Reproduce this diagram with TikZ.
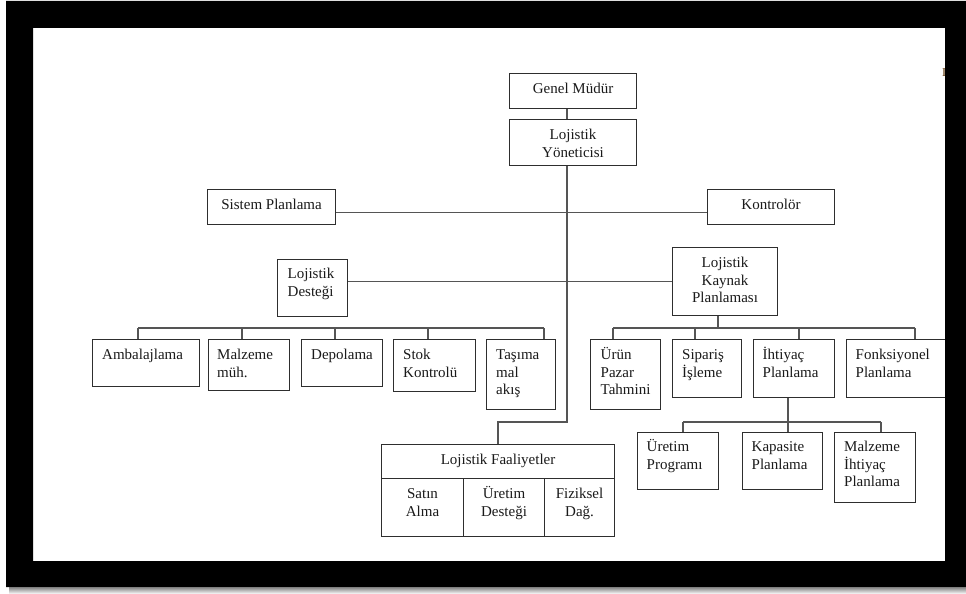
\documentclass[tikz,border=0pt]{standalone}
\usepackage{fontspec}
\setmainfont{Liberation Serif}
\definecolor{boxc}{HTML}{2E2E2E}
\definecolor{linec}{HTML}{555555}
\definecolor{txt}{HTML}{1A1A1A}
\definecolor{fragc}{HTML}{5A3000}
\newcommand\fs{\fontsize{15pt}{17.8pt}\selectfont}
\newcommand\tstrut{\rule{0pt}{13pt}}
\tikzset{
  bx/.style={draw=boxc, line width=1.1pt, inner sep=0pt, anchor=north west, fill=white},
  tl/.style={anchor=north west, inner sep=0pt, align=left, font=\fs, text=txt},
  tc/.style={anchor=north, inner sep=0pt, align=center, font=\fs, text=txt},
  conn/.style={draw=linec, line width=1.2pt},
}
\begin{document}
\begin{tikzpicture}[x=1pt, y=-1pt]
\useasboundingbox (0,0) rectangle (966,594);
\fill[white] (0,0) rectangle (966,594);

% --- top of the hierarchy ---
\node[bx, minimum width=127pt, minimum height=35pt] (gm) at (509,73) {};
\node[tc] (gmT) at ([yshift=-7pt]gm.north) {\tstrut Genel Müdür};
\node[bx, minimum width=127pt, minimum height=46pt] (ly) at (509,119) {};
\node[tc] (lyT) at ([yshift=-7pt]ly.north) {\tstrut Lojistik\\Yöneticisi};

% --- staff units ---
\node[bx, minimum width=128pt, minimum height=35pt] (sp) at (207,189) {};
\node[tc] (spT) at ([yshift=-7pt]sp.north) {\tstrut Sistem Planlama};
\node[bx, minimum width=127pt, minimum height=35pt] (kon) at (707,189) {};
\node[tc] (konT) at ([yshift=-7pt]kon.north) {\tstrut Kontrolör};

% --- second level ---
\node[bx, minimum width=70pt, minimum height=57pt] (ld) at (277,259) {};
\node[tl] (ldT) at ([shift={(10.5pt,-6pt)}]ld.north west) {\tstrut Lojistik\\Desteği};
\node[bx, minimum width=105pt, minimum height=68pt] (lkp) at (672,247) {};
\node[tc] (lkpT) at ([yshift=-7pt]lkp.north) {\tstrut Lojistik\\Kaynak\\Planlaması};

% --- units under Lojistik Desteği ---
\node[bx, minimum width=107pt, minimum height=47pt] (amb) at (92,339) {};
\node[tl] (ambT) at ([shift={(10pt,-7pt)}]amb.north west) {\tstrut Ambalajlama};
\node[bx, minimum width=81pt, minimum height=51pt] (mal) at (208,339) {};
\node[tl] (malT) at ([shift={(9pt,-7pt)}]mal.north west) {\tstrut Malzeme\\müh.};
\node[bx, minimum width=81pt, minimum height=47pt] (dep) at (301,339) {};
\node[tl] (depT) at ([shift={(10pt,-7pt)}]dep.north west) {\tstrut Depolama};
\node[bx, minimum width=82pt, minimum height=52pt] (stok) at (393,339) {};
\node[tl] (stokT) at ([shift={(10pt,-7pt)}]stok.north west) {\tstrut Stok\\Kontrolü};
\node[bx, minimum width=69pt, minimum height=70pt] (tas) at (486,339) {};
\node[tl] (tasT) at ([shift={(10pt,-7pt)}]tas.north west) {\tstrut Taşıma\\mal\\akış};

% --- units under Lojistik Kaynak Planlaması ---
\node[bx, minimum width=70pt, minimum height=70pt] (urun) at (590,339) {};
\node[tl] (urunT) at ([shift={(10.5pt,-7pt)}]urun.north west) {\tstrut Ürün\\Pazar\\Tahmini};
\node[bx, minimum width=69pt, minimum height=58pt] (sip) at (672,339) {};
\node[tl] (sipT) at ([shift={(10pt,-7pt)}]sip.north west) {\tstrut Sipariş\\İşleme};
\node[bx, minimum width=81pt, minimum height=58pt] (iht) at (753,339) {};
\node[tl] (ihtT) at ([shift={(9.5pt,-7pt)}]iht.north west) {\tstrut İhtiyaç\\Planlama};
\node[bx, minimum width=110pt, minimum height=58pt] (fon) at (846,339) {};
\node[tl] (fonT) at ([shift={(9.5pt,-7pt)}]fon.north west) {\tstrut Fonksiyonel\\Planlama};

% --- units under İhtiyaç Planlama ---
\node[bx, minimum width=81pt, minimum height=57pt] (uret) at (637,432) {};
\node[tl] (uretT) at ([shift={(9.5pt,-6pt)}]uret.north west) {\tstrut Üretim\\Programı};
\node[bx, minimum width=80pt, minimum height=57pt] (kap) at (742,432) {};
\node[tl] (kapT) at ([shift={(9.5pt,-6pt)}]kap.north west) {\tstrut Kapasite\\Planlama};
\node[bx, minimum width=81pt, minimum height=70pt] (mip) at (834,432) {};
\node[tl] (mipT) at ([shift={(10pt,-6pt)}]mip.north west) {\tstrut Malzeme\\İhtiyaç\\Planlama};

% --- Lojistik Faaliyetler table ---
\node[bx, minimum width=233pt, minimum height=34pt] (lfh) at (381,444) {};
\node[tc] (lfhT) at ([yshift=-7pt]lfh.north) {\tstrut Lojistik Faaliyetler};
\node[bx, minimum width=82pt, minimum height=58pt] (lfa) at (381,478) {};
\node[tc] (lfaT) at ([yshift=-7pt]lfa.north) {\tstrut Satın\\Alma};
\node[bx, minimum width=81pt, minimum height=58pt] (lfb) at (463,478) {};
\node[tc] (lfbT) at ([yshift=-7pt]lfb.north) {\tstrut Üretim\\Desteği};
\node[bx, minimum width=70pt, minimum height=58pt] (lfc) at (544,478) {};
\node[tc] (lfcT) at ([yshift=-7pt]lfc.north) {\tstrut Fiziksel\\Dağ.};

% --- connector geometry ---
\coordinate (trunk) at (567,0);
\coordinate (hstaff) at (0,212.5);
\coordinate (lfbend) at (567,422);
\coordinate (lfin) at (498,0);
\coordinate (dAmb) at (138,328);
\coordinate (dMal) at (242,328);
\coordinate (dDep) at (335,328);
\coordinate (dStok) at (428,328);
\coordinate (dTas) at (544,328);
\coordinate (dLkp) at (718,328);
\coordinate (dUrun) at (613,328);
\coordinate (dSip) at (695,328);
\coordinate (dIht) at (799,328);
\coordinate (dFon) at (915,328);
\coordinate (dKap) at (788,422);
\coordinate (dUret) at (683,422);
\coordinate (dMip) at (881,422);

% main trunk
\draw[conn] (gm.south -| trunk) -- (ly.north -| trunk);
\draw[conn] (ly.south -| trunk) -- (lfbend) -| (lfh.north -| lfin);
% staff line
\draw[conn] (sp.east |- hstaff) -- (kon.west |- hstaff);
% second level line
\draw[conn] (ld.east |- lkp.west) -- (lkp.west);
% bus under Lojistik Desteği
\draw[conn] (dAmb) -- (dTas);
\draw[conn] (dAmb) -- (dAmb |- amb.north);
\draw[conn] (dMal) -- (dMal |- mal.north);
\draw[conn] (dDep) -- (dDep |- dep.north);
\draw[conn] (dStok) -- (dStok |- stok.north);
\draw[conn] (dTas) -- (dTas |- tas.north);
% bus under Lojistik Kaynak Planlaması
\draw[conn] (dLkp |- lkp.south) -- (dLkp);
\draw[conn] (dUrun) -- (dFon);
\draw[conn] (dUrun) -- (dUrun |- urun.north);
\draw[conn] (dSip) -- (dSip |- sip.north);
\draw[conn] (dIht) -- (dIht |- iht.north);
\draw[conn] (dFon) -- (dFon |- fon.north);
% bus under İhtiyaç Planlama
\draw[conn] (dKap |- iht.south) -- (dKap |- kap.north);
\draw[conn] (dUret) -- (dMip);
\draw[conn] (dUret) -- (dUret |- uret.north);
\draw[conn] (dMip) -- (dMip |- mip.north);

% clipped glyph at the right margin
\node[anchor=base west, inner sep=0pt, font=\fontsize{12pt}{14pt}\selectfont, text=fragc] (frag) at (941.8,77) {I};

% black page frame with drop shadow
\fill[black, even odd rule] (6,1) rectangle (966,587) (33,28) rectangle (945,561);
\shade[top color=black!50, bottom color=white] (9,587) rectangle (966,594);
\end{tikzpicture}
\end{document}
